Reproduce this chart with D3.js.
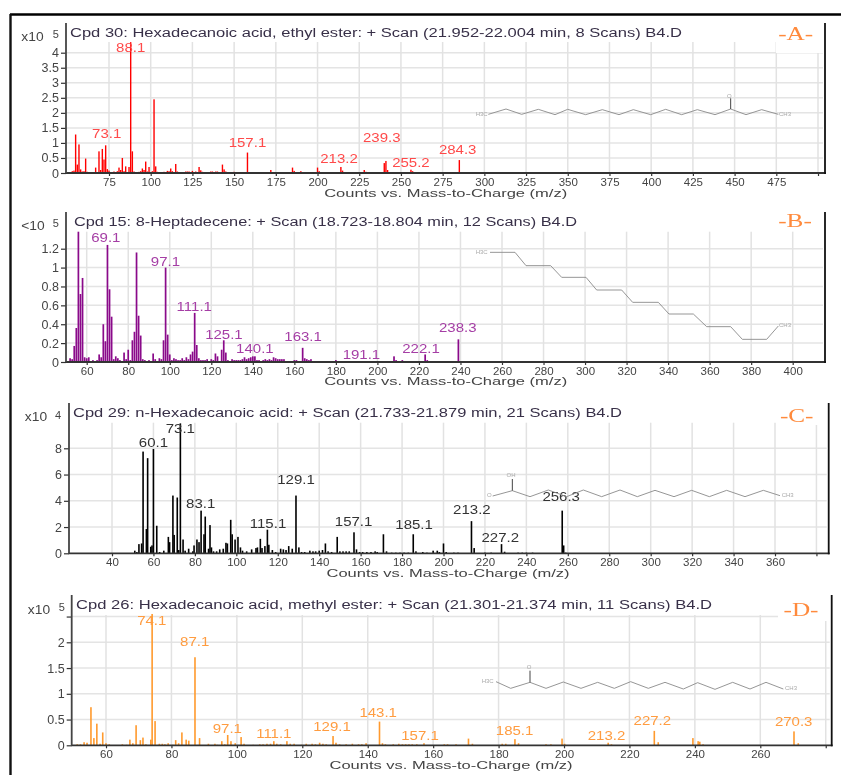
<!DOCTYPE html>
<html><head><meta charset="utf-8">
<script src="https://cdn.jsdelivr.net/npm/d3@7"></script>
<style>html,body{margin:0;padding:0;background:#fff}svg{display:block;filter:blur(.45px)}text{font-family:"Liberation Sans",Arial,sans-serif}</style>
</head><body><svg id="c" width="841" height="775"></svg>
<script>
// ---------- data: [m/z, abundance] ----------
const peaksA=[[53,.06],[54,.08],[55,1.28],[56,.28],[57,.95],[58,.12],[59,.05],[60,.06],[61,.48],[62,.04],[65,.03],[67,.18],[69,.72],[70,.1],[71,.8],[72,.45],[73,.92],[74,.13],[75,.08],[76,.03],[78,.05],[80,.06],[81,.18],[82,.1],[83,.5],[84,.06],[85,.22],[87,.2],[88,4.35],[89,.72],[90,.05],[93,.04],[94,.06],[95,.15],[96,.1],[97,.38],[98,.05],[99,.2],[101,.06],[102,2.45],[103,.22],[104,.04],[106,.03],[108,.04],[110,.07],[111,.06],[112,.15],[113,.06],[115,.3],[116,.05],[118,.03],[121,.05],[122,.05],[123,.05],[125,.07],[127,.05],[129,.2],[130,.09],[131,.04],[136,.05],[137,.05],[139,.05],[140,.05],[143,.28],[144,.12],[145,.05],[147,.03],[150,.04],[153,.03],[158,.68],[163,.03],[165,.03],[168,.03],[172,.1],[177,.03],[185,.18],[186,.07],[190,.06],[195,.03],[200,.18],[201,.06],[214,.2],[215,.08],[228,.1],[229,.04],[237,.03],[240,.33],[241,.4],[242,.1],[256,.11],[257,.06],[258,.03],[285,.43]];
const peaksB=[[52,.04],[53,.03],[54,.17],[55,.36],[56,1.38],[57,.72],[58,.89],[59,.05],[60,.04],[61,.05],[63,.02],[65,.02],[66,.08],[67,.05],[68,.4],[69,.22],[70,1.24],[71,.77],[72,.48],[73,.03],[74,.06],[75,.04],[76,.02],[78,.1],[79,.03],[80,.13],[81,.02],[82,.23],[83,.32],[84,1.16],[85,.49],[86,.28],[87,.03],[88,.02],[89,.01],[90,.02],[92,.09],[93,.03],[95,.04],[96,.03],[97,.23],[98,1],[99,.29],[100,.08],[101,.02],[102,.04],[103,.03],[104,.02],[105,.02],[106,.04],[107,.02],[108,.05],[109,.03],[110,.08],[111,.11],[112,.52],[113,.18],[114,.04],[115,.02],[116,.02],[117,.02],[118,.03],[119,.01],[120,.03],[121,.02],[122,.09],[123,.06],[125,.13],[126,.23],[127,.1],[128,.02],[130,.03],[131,.02],[132,.02],[133,.02],[134,.02],[135,.03],[136,.05],[137,.03],[138,.04],[139,.05],[140,.06],[141,.06],[142,.02],[143,.02],[145,.02],[146,.03],[147,.02],[148,.03],[149,.02],[150,.05],[151,.04],[152,.03],[153,.03],[154,.03],[155,.03],[157,.01],[159,.01],[160,.02],[161,.02],[163,.01],[164,.15],[165,.04],[166,.03],[167,.02],[168,.03],[170,.01],[172,.01],[175,.01],[178,.01],[180,.02],[181,.01],[183,.01],[188,.01],[190,.01],[192,.01],[194,.01],[195,.01],[208,.06],[209,.02],[212,.02],[223,.08],[224,.02],[239,.24],[281,.01]];
const peaksC=[[51,.2],[52,.1],[53,.7],[54.3,.75],[55,7.75],[56.6,1.85],[57.2,7.25],[58.7,.5],[59.3,.6],[60,7.95],[61.6,2.1],[63,.1],[65,.2],[67.2,1.25],[67.8,.85],[69.4,4.4],[70,1.4],[71.5,4.25],[72.2,.25],[73,9.9],[74.3,1.05],[75.3,.2],[77,.35],[79,.15],[79.6,.6],[81,1.05],[82,.85],[83,3.25],[84.4,1.45],[85,2.8],[86.6,.35],[87.3,2.15],[88,.45],[89,.15],[90.5,.15],[92,.3],[93.7,.35],[95,.8],[95.7,.75],[97.3,2.55],[98,1.45],[99.4,1.05],[100.8,1.25],[102,.45],[103,.2],[105,.15],[107.4,.3],[109.5,.4],[110.2,.45],[111.6,1.1],[112.4,.4],[113.8,.55],[115,1.8],[115.7,.65],[117.4,.25],[119,.1],[121.4,.35],[122.7,.3],[124,.25],[125.3,.55],[127,.35],[128.8,4.4],[130.2,.45],[131.5,.1],[133,.1],[135.5,.2],[137,.15],[138.3,.15],[140,.2],[141.6,.25],[143,.75],[144.3,.15],[146,.1],[148.7,1.25],[150,.15],[151.5,.15],[153,.15],[154.5,.15],[156.8,1.6],[158,.3],[159.5,.1],[161,.1],[163,.1],[165,.1],[167,.15],[168,.1],[171,1.45],[172.5,.15],[175,.05],[177,.05],[179,.05],[181,.05],[183,.05],[185.4,1.45],[186.7,.15],[190,.1],[192,.05],[195,.2],[197,.2],[198,.1],[200,.75],[201.3,.1],[205,.05],[207,.05],[213.5,2.45],[214.8,.4],[220,.05],[223,.05],[228,.7],[229.5,.12],[236,.05],[238,.05],[240,.05],[243,.05],[257.3,3.25],[258,.6],[259,.05]];
const peaksD=[[51.2,.02],[52.2,.02],[53.3,.06],[54.2,.05],[55.4,.74],[56.3,.14],[57.2,.42],[58.2,.03],[59,.25],[60,.04],[61,.02],[65,.02],[66.3,.01],[67.3,.11],[68.2,.04],[69.2,.39],[70.5,.1],[71.3,.15],[72.2,.02],[73.7,.11],[74.1,2.55],[75,.47],[76.3,.03],[77.2,.03],[78,.02],[79,.04],[80.4,.01],[81.3,.1],[82.2,.04],[83.2,.25],[84.5,.11],[85.3,.09],[87.2,1.71],[88.6,.14],[91.3,.03],[93.3,.03],[94,.01],[95.4,.08],[96.3,.02],[97.2,.2],[98.2,.08],[99.5,.04],[101.3,.16],[102.2,.03],[105,.01],[107,.02],[108,.02],[109.2,.03],[110.3,.03],[111.3,.08],[112.2,.03],[113.4,.02],[115.3,.08],[116.3,.03],[117.5,.03],[119.8,.01],[121.2,.03],[123,.03],[124,.02],[125.3,.05],[126.3,.03],[127.3,.02],[129.4,.18],[130.3,.05],[131.4,.02],[133.4,.02],[135.3,.03],[137.2,.02],[138.2,.02],[139.5,.04],[143.6,.46],[144.5,.04],[145.4,.02],[147.8,.02],[149.5,.03],[150.6,.02],[151.6,.02],[152.6,.02],[153.6,.02],[155,.02],[157.2,.04],[163.4,.02],[164.4,.02],[167,.02],[170.8,.13],[172,.03],[181.1,.03],[182.2,.03],[185,.12],[186.1,.04],[194.5,.02],[196,.02],[199.4,.13],[200.2,.03],[213.5,.05],[214.5,.02],[227.6,.28],[228.8,.06],[239.4,.14],[241,.08],[241.5,.07],[242.5,.02],[270.3,.27],[271.6,.04]];

const labelTextA=["88.1","73.1","157.1","213.2","239.3","255.2","284.3"];
const labelTextB=["69.1","97.1","111.1","125.1","140.1","163.1","191.1","222.1","238.3"];
const labelTextC=["60.1","73.1","83.1","115.1","129.1","157.1","185.1","213.2","227.2","256.3"];
const labelTextD=["74.1","87.1","97.1","111.1","129.1","143.1","157.1","185.1","213.2","227.2","270.3"];

const xTicksA=[75,100,125,150,175,200,225,250,275,300,325,350,375,400,425,450,475,500];
const xTicksB=[60,80,100,120,140,160,180,200,220,240,260,280,300,320,340,360,380,400];
const xTicksC=[40,60,80,100,120,140,160,180,200,220,240,260,280,300,320,340,360,380];
const xTicksD=[60,80,100,120,140,160,180,200,220,240,260,280];
const yTicksA=[0,.5,1,1.5,2,2.5,3,3.5,4];
const yTicksB=[0,.2,.4,.6,.8,1,1.2];
const yTicksC=[0,2,4,6,8];
const yTicksD=[0,.5,1,1.5,2,2.5];

const titleA="Cpd 30: Hexadecanoic acid, ethyl ester: + Scan (21.952-22.004 min, 8 Scans) B4.D";
const titleB="Cpd 15: 8-Heptadecene: + Scan (18.723-18.804 min, 12 Scans) B4.D";
const titleC="Cpd 29: n-Hexadecanoic acid: + Scan (21.733-21.879 min, 21 Scans) B4.D";
const titleD="Cpd 26: Hexadecanoic acid, methyl ester: + Scan (21.301-21.374 min, 11 Scans) B4.D";
const axisTitle="Counts vs. Mass-to-Charge (m/z)";

// ---------- layout ----------
const panels=[
 {peaks:peaksA,labels:labelTextA,xt:xTicksA,yt:yTicksA,title:titleA,color:"#f00",lab:"#ff4a4a",barW:1.4,
  dom:[75,475],rng:[109,776.3],refV:4,base:173,refY:52.7,left:66,right:825,axTop:23,gridTop:42,hidden:[500],hiddenY:[],
  tx:70,tw:612,ty:37,atx:445.7,aty:196,letter:"-A-",lx:795.7,ly:40,box:[776,24,48,29],
  mul:"x10",mx:32.5,my:41,exp:"5",ex:55.7,ey:38,
  anchors:[[88,4.17],[73.6,1.3],[158,1],[212.9,.47],[238.5,1.18],[256,.33],[284,.77]]},
 {peaks:peaksB,labels:labelTextB,xt:xTicksB,yt:yTicksB,title:titleB,color:"#8a0a8a",lab:"#a53ea5",barW:1.7,
  dom:[60,400],rng:[86.7,792.7],refV:1.2,base:362,refY:248.7,left:66,right:825,axTop:212,gridTop:231.7,hidden:[],hiddenY:[],
  tx:74,tw:503,ty:226,atx:445.7,aty:384,letter:"-B-",lx:795,ly:227,box:[776,212,44,19],
  mul:"<10",mx:33,my:230,exp:"5",ex:55.7,ey:227,
  anchors:[[69.2,1.313],[97.9,1.065],[111.8,.589],[126.1,.291],[141,.138],[164.2,.273],[192.3,.08],[221,.14],[238.7,.358]]},
 {peaks:peaksC,labels:labelTextC,xt:xTicksC,yt:yTicksC,title:titleC,color:"#000",lab:"#333",barW:1.6,
  dom:[40,360],rng:[112,775],refV:8,base:553.3,refY:448.3,left:69,right:828.7,axTop:403,gridTop:422.7,hidden:[380],hiddenY:[],
  tx:73,tw:549,ty:417,atx:448,aty:576,letter:"-C-",lx:796.7,ly:422,box:[776,408,44,17],
  mul:"x10",mx:36,my:421,exp:"4",ex:58,ey:419,
  anchors:[[60,8.45],[73,9.5],[82.8,3.76],[115.3,2.28],[128.8,5.58],[156.6,2.44],[185.8,2.18],[213.7,3.35],[227.4,1.17],[256.8,4.31]]},
 {peaks:peaksD,labels:labelTextD,xt:xTicksD,yt:yTicksD,title:titleD,color:"#ff9a2e",lab:"#ff9c40",barW:1.6,
  dom:[60,260],rng:[106,760.3],refV:2,base:745.3,refY:642.3,left:71.7,right:831.7,axTop:595,gridTop:615,hidden:[280],hiddenY:[2.5],
  tx:76,tw:636,ty:609,atx:451,aty:768,letter:"-D-",lx:801,ly:616,box:[778,600,52,21],
  mul:"x10",mx:39,my:614,exp:"5",ex:61.7,ey:611,
  anchors:[[74,2.41],[87.1,2.01],[97.1,.32],[111.3,.23],[129.1,.36],[143.2,.64],[156,.19],[184.9,.28],[213,.19],[227,.47],[270.2,.45]]}
];

const svg=d3.select("#c");
function stretch(sel,f){sel.each(function(){this.setAttribute("textLength",this.getComputedTextLength()*f);this.setAttribute("lengthAdjust","spacingAndGlyphs");});return sel;}

// frame
svg.append("line").attr("x1",10).attr("x2",841).attr("y1",14.5).attr("y2",14.5).attr("stroke","#000").attr("stroke-width",2.4);
svg.append("line").attr("x1",10.5).attr("x2",10.5).attr("y1",14).attr("y2",775).attr("stroke","#111").attr("stroke-width",2.4);

panels.forEach(p=>{
  const g=svg.append("g");
  const x=d3.scaleLinear().domain(p.dom).range(p.rng);
  const y=d3.scaleLinear().domain([0,p.refV]).range([p.base,p.refY]);
  // grid
  g.append("g").selectAll("line").data(p.yt.filter(d=>d>0)).join("line")
    .attr("x1",p.left).attr("x2",p.right-2).attr("y1",d=>y(d)).attr("y2",d=>y(d)).attr("stroke","#e4e4e4").attr("stroke-width",1.5);
  g.append("g").selectAll("line").data(p.xt).join("line")
    .attr("x1",d=>x(d)).attr("x2",d=>x(d)).attr("y1",p.gridTop).attr("y2",p.base).attr("stroke","#e2e2e2").attr("stroke-width",1.5);
  // mask behind the panel letter
  g.append("rect").attr("x",p.box[0]).attr("y",p.box[1]).attr("width",p.box[2]).attr("height",p.box[3]).attr("fill","#fff");
  // bars
  g.append("g").selectAll("rect").data(p.peaks).join("rect")
    .attr("x",d=>x(d[0])-p.barW/2).attr("width",p.barW).attr("y",d=>y(d[1])).attr("height",d=>p.base-y(d[1])).attr("fill",p.color);
  // axes
  const ax=g.append("g").attr("transform",`translate(0,${p.base})`)
    .call(d3.axisBottom(x).tickValues(p.xt).tickFormat(d=>p.hidden.includes(d)?"":d).tickSize(3).tickPadding(2));
  const ay=g.append("g").attr("transform",`translate(${p.left},0)`)
    .call(d3.axisLeft(y).tickValues(p.yt).tickFormat(d=>p.hiddenY.includes(d)?"":d).tickSize(5).tickPadding(2));
  [ax,ay].forEach(a=>{a.select(".domain").remove();a.selectAll("line").attr("stroke","#333").attr("stroke-width",1.2);
    a.selectAll("text").attr("fill","#444").attr("font-family",null);});
  ay.selectAll("text").style("font-size","12.5px");
  ax.selectAll("text").style("font-size","11.5px");
  g.append("line").attr("x1",p.left-.5).attr("x2",p.right+1).attr("y1",p.base).attr("y2",p.base).attr("stroke","#333").attr("stroke-width",1.8);
  g.append("line").attr("x1",p.left).attr("x2",p.left).attr("y1",p.axTop).attr("y2",p.base).attr("stroke","#444").attr("stroke-width",1.8);
  g.append("line").attr("x1",p.right).attr("x2",p.right).attr("y1",p.axTop).attr("y2",p.base+1).attr("stroke","#111").attr("stroke-width",1.8);
  // peak labels
  g.append("g").selectAll("text").data(p.labels).join("text")
    .attr("x",(d,i)=>x(p.anchors[i][0])).attr("y",(d,i)=>y(p.anchors[i][1])+4.3)
    .attr("text-anchor","middle").attr("fill",p.lab).style("font-size","12px").text(d=>d).call(stretch,1.25);
  // texts
  g.append("text").attr("x",p.tx).attr("y",p.ty).attr("fill","#383048").style("font-size","12.3px").text(p.title)
    .attr("textLength",p.tw).attr("lengthAdjust","spacingAndGlyphs");
  g.append("text").attr("x",p.atx).attr("y",p.aty+.5).attr("text-anchor","middle").attr("fill","#444").style("font-size","11px").text(axisTitle)
    .attr("textLength",243).attr("lengthAdjust","spacingAndGlyphs");
  g.append("text").attr("x",p.mx).attr("y",p.my).attr("text-anchor","middle").attr("fill","#444").style("font-size","12px").text(p.mul).call(stretch,1.15);
  g.append("text").attr("x",p.ex).attr("y",p.ey).attr("text-anchor","middle").attr("fill","#444").style("font-size","11px").text(p.exp);
  g.append("text").attr("x",p.lx).attr("y",p.ly).attr("text-anchor","middle").attr("fill","#ff8a3c").style("font-size","18px").style("font-family","'Liberation Serif',serif").text(p.letter).call(stretch,1.4);
});

// ---------- structural formulas (decoration, in zoomed-crop coordinates) ----------
function structure(oy,chain,bonds,atoms){
  const g=svg.append("g"),P=([a,b])=>[420+a/3,oy+b/3];
  g.append("path").attr("d",d3.line()(chain.map(P))).attr("fill","none").attr("stroke","#8a8a8a").attr("stroke-width",.9);
  bonds.forEach(b=>g.append("path").attr("d",d3.line()(b.map(P))).attr("fill","none").attr("stroke","#444").attr("stroke-width",1));
  atoms.forEach(([t,a,b])=>{const q=P([a,b]);g.append("text").attr("x",q[0]).attr("y",q[1]+2).attr("text-anchor","middle").attr("fill","#aaa").style("font-size","6px").text(t);});
}
structure(0,[[205,343],[258,327],[305,343],[355,328],[405,344],[443,328],[497,344],[547,329],[597,344],[640,329],[692,344],[737,328],[785,344],[832,329],[885,344],[932,327],[978,344],[1025,329],[1075,343]],
  [[[932,327],[932,295]]],[["H3C",185,343],["O",928,287],["CH3",1095,343]]);
structure(200,[[210,157],[285,157],[318,197],[392,197],[425,232],[498,232],[530,270],[605,270],[638,307],[715,307],[747,342],[820,342],[860,380],[932,380],[967,418],[1040,418],[1075,378]],
  [],[["H3C",185,157],["CH3",1095,376]]);
structure(395,[[218,303],[277,287],[330,305],[385,285],[440,305],[490,285],[545,305],[600,285],[652,305],[705,286],[762,305],[815,286],[868,305],[920,286],[975,305],[1030,286],[1080,302]],
  [[[277,287],[277,252]]],[["O",208,300],["OH",273,240],["CH3",1103,300]]);
structure(585,[[228,290],[272,310],[330,292],[378,310],[430,291],[483,310],[533,292],[583,310],[632,290],[685,310],[735,292],[790,312],[833,293],[885,313],[938,292],[990,312],[1038,292],[1090,312]],
  [[[330,292],[330,257]]],[["H3C",203,289],["O",327,245],["CH3",1113,309]]);
</script></body></html>
